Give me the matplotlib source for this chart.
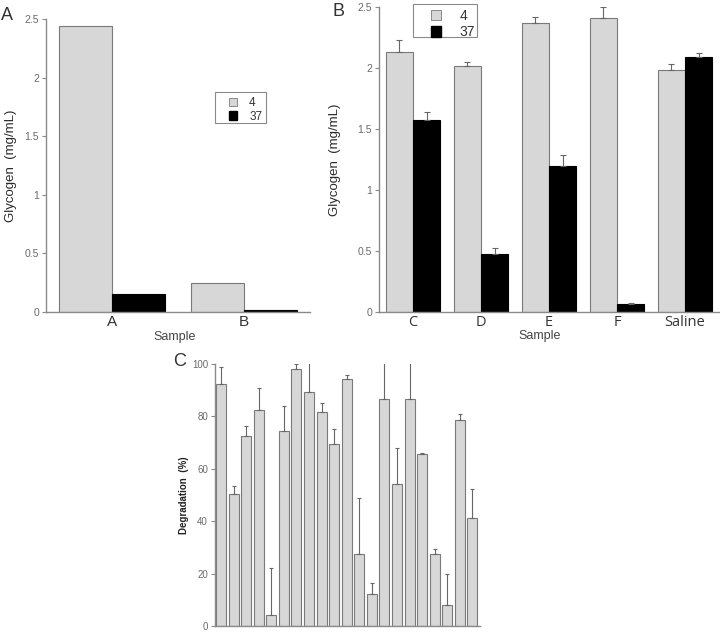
import matplotlib
matplotlib.use("Agg")
import matplotlib.pyplot as plt
import numpy as np
from matplotlib.patches import Patch, Rectangle

# ---------------- data ----------------
a_samples = ["A", "B"]
a_4 = [2.44, 0.25]
a_37 = [0.15, 0.02]

b_samples = ["C", "D", "E", "F", "Saline"]
b_4 = [2.13, 2.02, 2.37, 2.41, 1.98]
b_4_err = [0.10, 0.03, 0.05, 0.09, 0.05]
b_37 = [1.57, 0.475, 1.20, 0.066, 2.09]
b_37_err = [0.07, 0.05, 0.09, 0.01, 0.03]

c_values = [92.2, 50.4, 72.7, 82.3, 4.3, 74.3, 98.1, 89.5, 81.6, 69.4, 94.4,
            27.3, 12.4, 86.7, 54.3, 86.8, 65.6, 27.5, 8.2, 78.6, 41.1]
c_err = [6.7, 3.0, 3.8, 8.6, 17.7, 9.5, 2.0, 15.0, 3.7, 5.9, 1.5,
         21.7, 4.1, 20.0, 13.5, 20.0, 0.3, 2.0, 11.8, 2.4, 11.1]

LG = "#d7d7d7"
EDGE = "#7a7a7a"
SPINE = "#8a8a8a"
TICKC = "#6a6a6a"
ECOL = "#666666"

plt.rcParams['font.family'] = ['Liberation Sans', 'DejaVu Sans']

W, H = 720, 632
fig = plt.figure(figsize=(7.2, 6.32), dpi=100)

def fx(px):
    return px / W

def fy(py):
    return 1 - py / H

def style_axes(ax, ticklabelsize=7.5):
    for s in ["top", "right"]:
        ax.spines[s].set_visible(False)
    for s in ["left", "bottom"]:
        ax.spines[s].set_color(SPINE)
        ax.spines[s].set_linewidth(1.0)
    ax.tick_params(axis="y", direction="out", length=3, width=0.8, color=SPINE,
                   labelsize=ticklabelsize, labelcolor=TICKC, pad=2)
    ax.tick_params(axis="x", length=0, pad=2)

def manual_legend(ax, box, handle_xy, fontsize, handlelength, handleheight, textpad):
    x0, y0, x1, y1 = box
    rect = Rectangle((fx(x0), fy(y1)), fx(x1) - fx(x0), fy(y0) - fy(y1),
                     transform=fig.transFigure, facecolor="white",
                     edgecolor=SPINE, linewidth=0.8, zorder=5, clip_on=False)
    ax.add_patch(rect)
    leg = ax.legend(handles=[Patch(facecolor=LG, edgecolor=EDGE, lw=0.6),
                             Patch(facecolor="black", edgecolor="black")],
                    labels=["4", "37"], loc="upper left",
                    bbox_to_anchor=(fx(handle_xy[0]), fy(handle_xy[1])),
                    bbox_transform=fig.transFigure,
                    frameon=False, fontsize=fontsize,
                    handlelength=handlelength, handleheight=handleheight,
                    labelspacing=0.15, borderpad=0, handletextpad=textpad,
                    borderaxespad=0, labelcolor="#333333")
    leg.set_zorder(10)
    return leg

# ---------------- Panel A ----------------
axA = fig.add_axes([fx(46), fy(312), fx(310) - fx(46), fy(19) - fy(312)])
x = np.arange(len(a_samples))
w = 0.4
axA.bar(x - w/2, a_4, w, color=LG, edgecolor=EDGE, linewidth=0.8, label="4")
axA.bar(x + w/2, a_37, w, color="black", edgecolor="black", linewidth=0.8, label="37")
axA.set_xlim(-0.5, 1.5)
axA.set_ylim(0, 2.5)
axA.set_yticks([0, 0.5, 1, 1.5, 2, 2.5])
axA.set_yticklabels(["0", "0.5", "1", "1.5", "2", "2.5"])
axA.set_xticks(x)
axA.set_xticklabels(a_samples, fontsize=11, color="#333333")
style_axes(axA)
axA.set_ylabel("Glycogen  (mg/mL)", fontsize=9.5, color="#2a2a2a")
axA.yaxis.set_label_coords((17 - 46) / 264, 0.5)
manual_legend(axA, (215, 92, 266, 123), (229, 97), 8.5, 0.7, 0.75, 1.0)
fig.text(fx(7), fy(16), "A", fontsize=13, color="#333333", ha="center", va="center")
fig.text(fx(175), fy(337), "Sample", fontsize=9, color="#444444", ha="center", va="center")

# ---------------- Panel B ----------------
axB = fig.add_axes([fx(379), fy(312), fx(719) - fx(379), fy(7) - fy(312)])
xb = np.arange(len(b_samples))
ekw = dict(ecolor=ECOL, elinewidth=0.8, capsize=2.5, capthick=0.8)
axB.bar(xb - w/2, b_4, w, color=LG, edgecolor=EDGE, linewidth=0.8,
        yerr=[np.zeros(len(b_4)), b_4_err], error_kw=ekw)
axB.bar(xb + w/2, b_37, w, color="black", edgecolor="black", linewidth=0.8,
        yerr=[np.zeros(len(b_37)), b_37_err], error_kw=ekw)
axB.set_xlim(-0.5, 4.5)
axB.set_ylim(0, 2.5)
axB.set_yticks([0, 0.5, 1, 1.5, 2, 2.5])
axB.set_yticklabels(["0", "0.5", "1", "1.5", "2", "2.5"])
axB.set_xticks(xb)
axB.set_xticklabels(b_samples, fontsize=10.5, color="#333333", family=["Open Sans", "DejaVu Sans"])
style_axes(axB)
axB.set_ylabel("Glycogen  (mg/mL)", fontsize=9.5, color="#2a2a2a")
axB.yaxis.set_label_coords(-(379 - 341) / 340, 0.5)
manual_legend(axB, (413, 4, 477, 37), (431, 9), 10, 0.75, 0.8, 1.3)
fig.text(fx(339), fy(12), "B", fontsize=13, color="#333333", ha="center", va="center")
fig.text(fx(540), fy(336), "Sample", fontsize=9, color="#444444", ha="center", va="center")

# ---------------- Panel C ----------------
axC = fig.add_axes([fx(215), fy(626), fx(480) - fx(215), fy(364) - fy(626)])
xc = np.arange(len(c_values))
axC.bar(xc, c_values, 0.79, color=LG, edgecolor=EDGE, linewidth=0.8,
        yerr=[np.zeros(len(c_values)), c_err],
        error_kw=dict(ecolor=ECOL, elinewidth=0.8, capsize=1.5, capthick=0.8))
axC.set_xlim(-0.48, 20.6)
axC.set_ylim(0, 100)
axC.set_yticks([0, 20, 40, 60, 80, 100])
axC.set_xticks([])
style_axes(axC, ticklabelsize=7)
axC.set_ylabel("Degradation  (%)", fontsize=7, fontweight="bold", color="#222222")
axC.yaxis.set_label_coords(-(215 - 189) / 265, 0.5)
fig.text(fx(180), fy(361), "C", fontsize=13, color="#333333", ha="center", va="center")

fig.savefig("out.png", dpi=100)
